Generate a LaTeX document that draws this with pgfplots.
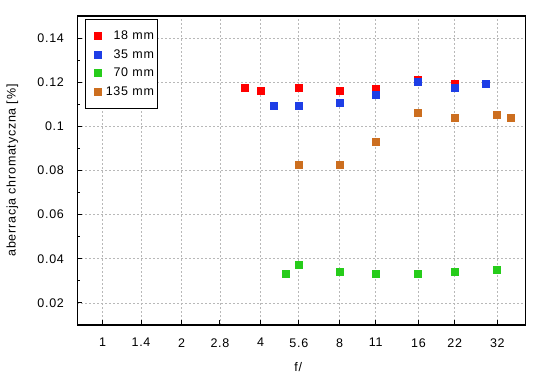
\documentclass[border=0pt]{standalone}
\usepackage{fontspec}
\setmainfont{Liberation Sans}[LetterSpace=6]
\usepackage{pgfplots}
\pgfplotsset{compat=1.18}
\definecolor{cred}{HTML}{FF0000}
\definecolor{cblue}{HTML}{1E3EE6}
\definecolor{cgreen}{HTML}{26CC1A}
\definecolor{corange}{HTML}{CC6E1F}
\begin{document}
\fontsize{12.5bp}{14bp}\selectfont
\begin{tikzpicture}
\begin{axis}[
  scale only axis, width=448bp, height=309bp,
  xmode=log, xmin=0.8, xmax=40.9, ymin=0.01, ymax=0.15,
  xtick={1,1.4,2,2.8,4,5.6,8,11,16,22,32},
  xticklabels={1,1.4,2,2.8,4,5.6,8,11,16,22,32},
  minor xtick={},
  ytick={0.02,0.04,0.06,0.08,0.1,0.12,0.14},
  yticklabels={0.02,0.04,0.06,0.08,0.1,0.12,0.14},
  minor ytick={0.03,0.05,0.07,0.09,0.11,0.13},
  tick align=inside, xtick pos=bottom, ytick pos=left,
  major tick length=5bp, minor tick length=3bp,
  every tick/.style={black, line width=1bp},
  grid=major,
  major grid style={black!28, dash pattern=on 2bp off 2bp, line width=0.8bp},
  axis line style={line width=1.2bp},
  /pgf/number format/assume math mode=true,
  ticklabel style={font=\fontsize{12.5bp}{14bp}\selectfont},
  yticklabel style={xshift=-9bp},
  xticklabel style={yshift=-9bp},
  xlabel={f/}, ylabel={aberracja chromatyczna [\%]},
  xlabel style={at={(axis description cs:0.493,0)}, anchor=center, yshift=-41.7bp},
  ylabel style={at={(axis description cs:-0.1447,0.5)}, anchor=center},
  legend cell align=right,
  legend image code/.code={\path (0bp,0bp); \draw[#1] plot coordinates {(8bp,0bp)};},
  legend style={at={(axis description cs:0,1)}, anchor=north west, xshift=8bp, yshift=-3.3bp,
    draw=black, line width=1bp, inner xsep=4bp, inner ysep=11bp, row sep=8bp, column sep=4bp,
    font=\fontsize{12.5bp}{14bp}\selectfont, nodes={inner sep=0bp}},
  every axis plot/.append style={only marks, mark=square*, mark size=3.5bp},
]
\addplot[cred, mark options={fill=cred, draw=cred, line width=0pt}] coordinates {
 (3.5,0.1176) (4,0.1158) (5.6,0.1176) (8,0.1158) (11,0.1167) (16,0.1208) (22,0.119)};
\addlegendentry{18 mm}
\addplot[cblue, mark options={fill=cblue, draw=cblue, line width=0pt}] coordinates {
 (4.5,0.109) (5.6,0.109) (8,0.1108) (11,0.114) (16,0.1199) (22,0.1176) (29,0.119)};
\addlegendentry{35 mm}
\addplot[cgreen, mark options={fill=cgreen, draw=cgreen, line width=0pt}] coordinates {
 (5.0,0.0332) (5.6,0.0373) (8,0.0341) (11,0.0332) (16,0.0332) (22,0.0341) (32,0.035)};
\addlegendentry{70 mm}
\addplot[corange, mark options={fill=corange, draw=corange, line width=0pt}] coordinates {
 (5.6,0.0827) (8,0.0827) (11,0.0928) (16,0.1059) (22,0.1036) (32,0.105) (36,0.1036)};
\addlegendentry{135 mm}
\end{axis}
\path (current axis.south west) +(-77.3bp,-55bp) rectangle +(472.7bp,325bp);
\end{tikzpicture}
\end{document}
